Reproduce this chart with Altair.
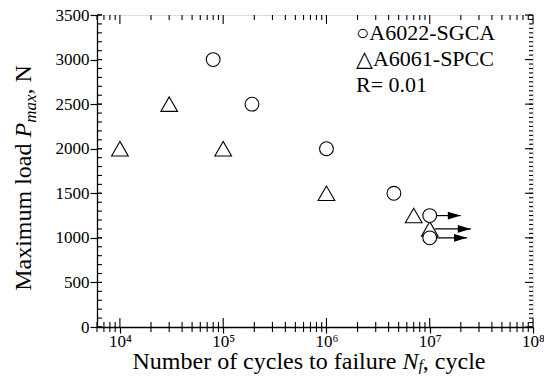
import altair as alt
import pandas as pd

# ---------------- data ----------------
sgca_cycles = [8.0e4, 1.9e5, 1.0e6, 4.5e6, 1.0e7, 1.0e7]
sgca_load = [3000, 2500, 2000, 1500, 1250, 1000]
spcc_cycles = [1.0e4, 3.0e4, 1.0e5, 1.0e6, 7.0e6, 1.0e7]
spcc_load = [2000, 2500, 2000, 1500, 1250, 1100]
runout_load = [1250, 1100, 1000]
runout_start = [1.12e7, 1.12e7, 1.12e7]
runout_end = [2.0e7, 2.5e7, 2.3e7]
legend_labels = ["○A6022-SGCA", "△A6061-SPCC", "R= 0.01"]
x_major = [1e4, 1e5, 1e6, 1e7, 1e8]
x_minor = [m * 10 ** e for e in range(3, 8) for m in range(2, 10) if 6000 <= m * 10 ** e <= 1e8]
y_major = list(range(0, 3501, 500))
y_minor = list(range(0, 3501, 100))
y_fine = list(range(0, 3501, 50))
sup = {4: "⁴", 5: "⁵", 6: "⁶", 7: "⁷", 8: "⁸"}

W, H = 436, 312
FONT = "'Liberation Serif', 'Times New Roman', Times, 'DejaVu Serif', serif"

xscale = alt.Scale(type="log", domain=[6000, 1e8], nice=False)
yscale = alt.Scale(domain=[0, 3500], nice=False, zero=False)

parts = []
for e in sorted(sup):
    parts.append(f"datum.value < {10 ** e * 3:g} ? '10{sup[e]}'")
expr = " : ".join(parts) + " : ''"

xaxis = alt.Axis(values=x_major, labelExpr=expr, title=None, grid=False, tickSize=6,
                 tickColor="black", tickWidth=1.2, domainColor="black", domainWidth=1.3,
                 labelFont=FONT, labelFontSize=17, labelColor="black", labelPadding=0,
                 labelFlush=False, labelOverlap=False)
yaxis = alt.Axis(values=y_major, format="d", title=None, grid=False, tickSize=7,
                 tickColor="black", tickWidth=1.2, domainColor="black", domainWidth=1.3,
                 labelFont=FONT, labelFontSize=17, labelColor="black", labelPadding=1,
                 labelOverlap=False)


def X(field):
    return alt.X(field, type="quantitative", scale=xscale, axis=xaxis)


def Y(field):
    return alt.Y(field, type="quantitative", scale=yscale, axis=yaxis)


layers = []


def xtick_layer(vals, y0, y1):
    return alt.Chart(pd.DataFrame({"v": vals})).mark_rule(color="black", strokeWidth=1.1).encode(
        x=X("v"), y=alt.value(y0), y2=alt.value(y1))


def ytick_layer(vals, x0, x1):
    return alt.Chart(pd.DataFrame({"v": vals})).mark_rule(color="black", strokeWidth=1.1).encode(
        y=Y("v"), x=alt.value(x0), x2=alt.value(x1))


layers += [
    xtick_layer(x_major, H - 9, H),
    xtick_layer(x_minor, H - 5, H + 5),
    xtick_layer(x_major, 0, 9),
    xtick_layer(x_minor, 0, 5),
    ytick_layer(y_major, 0, 5),
    ytick_layer(y_minor, 0, 5),
    ytick_layer(y_fine, W - 4, W),
    ytick_layer(y_major, W - 8, W),
]

# ---- data marks ----
spcc = pd.DataFrame({"N": spcc_cycles, "P": spcc_load})
sgca = pd.DataFrame({"N": sgca_cycles, "P": sgca_load})
runs = pd.DataFrame({"start": runout_start, "end": runout_end, "P": runout_load})

layers.append(alt.Chart(spcc).mark_point(shape="triangle-up", size=280, filled=True, fill="white",
                                         stroke="black", strokeWidth=1.1, opacity=1).encode(x=X("N"), y=Y("P")))
layers.append(alt.Chart(runs).mark_rule(color="black", strokeWidth=1.2).encode(
    x=X("start"), x2="end", y=Y("P")))
layers.append(alt.Chart(runs).mark_point(shape="M-1,-0.6L1,0L-1,0.6Z", size=169, filled=True,
                                         color="black", opacity=1, xOffset=-6.5).encode(x=X("end"), y=Y("P")))
layers.append(alt.Chart(sgca).mark_point(shape="circle", size=190, filled=True, fill="white",
                                         stroke="black", strokeWidth=1.1, opacity=1).encode(x=X("N"), y=Y("P")))

# ---- legend text ----
one = alt.Data(values=[{}])
for i, lab in enumerate(legend_labels):
    layers.append(alt.Chart(one).mark_text(text=lab, align="left", baseline="middle", font=FONT,
                                           fontSize=22, color="black").encode(
        x=alt.value(259), y=alt.value(18 + 26 * i)))

# ---- axis titles built from pieces (italic / subscript) ----
WREG = {" ": 250, ",": 250, "M": 889, "a": 444, "x": 500, "i": 278, "m": 778, "u": 500, "l": 278,
        "o": 500, "d": 500, "N": 722, "b": 500, "e": 444, "r": 333, "f": 333, "c": 444, "y": 500,
        "s": 389, "t": 278}
WIT = {"P": 611, "m": 722, "a": 500, "x": 444, "N": 667, "f": 278}


def tw(s, size, italic=False):
    tab = WIT if italic else WREG
    return sum(tab.get(ch, 500) for ch in s) * size / 1000.0


ytitle = [("Maximum load ", 24, False, 0), ("P", 24, True, 0), ("max", 17, True, 5), (", N", 24, False, 0)]
xtitle = [("Number of cycles to failure ", 24, False, 0), ("N", 24, True, 0), ("f", 16, True, 2),
          (", cycle", 24, False, 0)]

ytot = sum(tw(s, f, it) for s, f, it, _ in ytitle)
ypos = 163 + ytot / 2
for s, f, it, sh in ytitle:
    layers.append(alt.Chart(one).mark_text(text=s, align="left", baseline="alphabetic", angle=270,
                                           font=FONT, fontSize=f, fontStyle="italic" if it else "normal",
                                           color="black").encode(x=alt.value(-66 + sh), y=alt.value(ypos)))
    ypos -= tw(s, f, it)

xtot = sum(tw(s, f, it) for s, f, it, _ in xtitle)
xpos = 212 - xtot / 2
for s, f, it, sh in xtitle:
    layers.append(alt.Chart(one).mark_text(text=s, align="left", baseline="alphabetic",
                                           font=FONT, fontSize=f, fontStyle="italic" if it else "normal",
                                           color="black").encode(x=alt.value(xpos), y=alt.value(354 + sh)))
    xpos += tw(s, f, it)

chart = alt.layer(*layers).properties(
    width=W, height=H,
    padding={"left": 89, "top": 7, "right": 11, "bottom": 47},
    autosize=alt.AutoSizeParams(type="none"),
).configure_view(stroke="black", strokeWidth=1.3).configure(background="white", font=FONT)

chart.save("out.html", embed_options={"renderer": "svg", "actions": False})
